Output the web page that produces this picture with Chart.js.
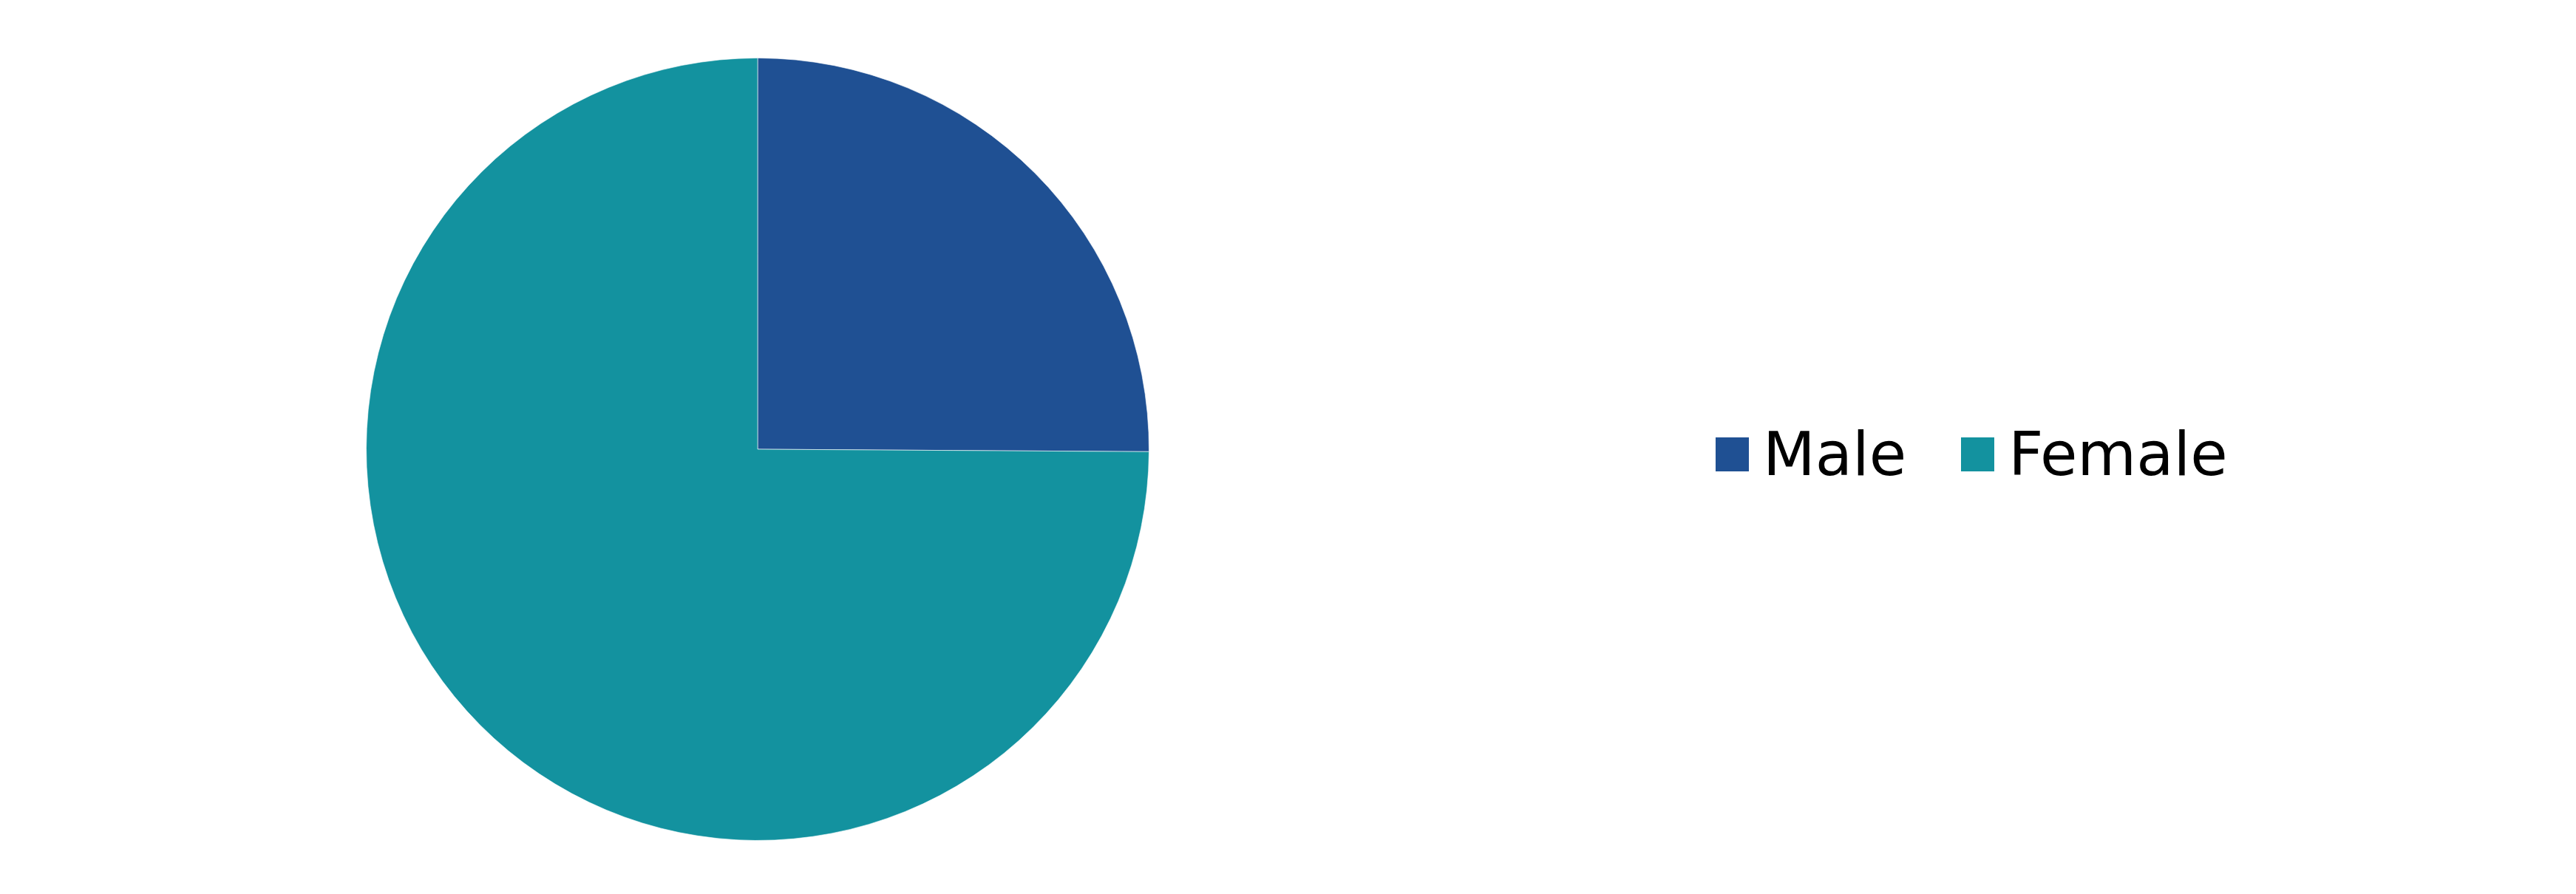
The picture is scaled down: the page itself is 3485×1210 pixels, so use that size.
<!DOCTYPE html>
<html>
<head>
<meta charset="utf-8">
<script src="https://cdn.jsdelivr.net/npm/chart.js@4/dist/chart.umd.min.js"></script>
<style>
  html, body { margin: 0; padding: 0; background: #fff; }
  #wrap { position: relative; width: 3485px; height: 1210px; }
  #pieBox { position: absolute; left: 0; top: 0; width: 2050px; height: 1210px; }
  #legend { position: absolute; left: 2321px; top: 574px; display: flex; align-items: center;
            font-family: "DejaVu Sans", sans-serif; font-size: 82px; line-height: 82px; color: #000; }
  #legend .item { display: flex; align-items: center; margin-right: 74px; }
  #legend .box { width: 45px; height: 46px; margin-right: 19px; }
</style>
</head>
<body>
<div id="wrap">
  <div id="pieBox"><canvas id="pieChart"></canvas></div>
  <div id="legend"></div>
</div>
<script>
// data
const categories = ['Male', 'Female'];
const shares = [25.1, 74.9];
const colours = ['#1F5093', '#13929F'];

// legend html built from the chart's own legend items
const htmlLegend = {
    id: 'htmlLegend',
    afterUpdate(chart) {
        const box = document.getElementById('legend');
        box.innerHTML = '';
        const items = chart.options.plugins.legend.labels.generateLabels(chart);
        items.forEach(item => {
            const el = document.createElement('div');
            el.className = 'item';
            const sw = document.createElement('span');
            sw.className = 'box';
            sw.style.background = item.fillStyle;
            const txt = document.createElement('span');
            txt.textContent = item.text;
            el.appendChild(sw);
            el.appendChild(txt);
            box.appendChild(el);
        });
    }
};

const pieChart = new Chart(document.getElementById('pieChart'), {
    type: 'pie',
    data: {
        labels: categories,
        datasets: [{
            data: shares,
            backgroundColor: colours,
            borderColor: 'rgba(255,255,255,0.6)',
            borderWidth: 1
        }]
    },
    options: {
        responsive: true,
        maintainAspectRatio: false,
        animation: false,
        layout: { padding: { top: 78, bottom: 72, left: 0, right: 0 } },
        plugins: {
            legend: { display: false },
            tooltip: { enabled: false }
        }
    },
    plugins: [htmlLegend]
});
</script>
</body>
</html>
